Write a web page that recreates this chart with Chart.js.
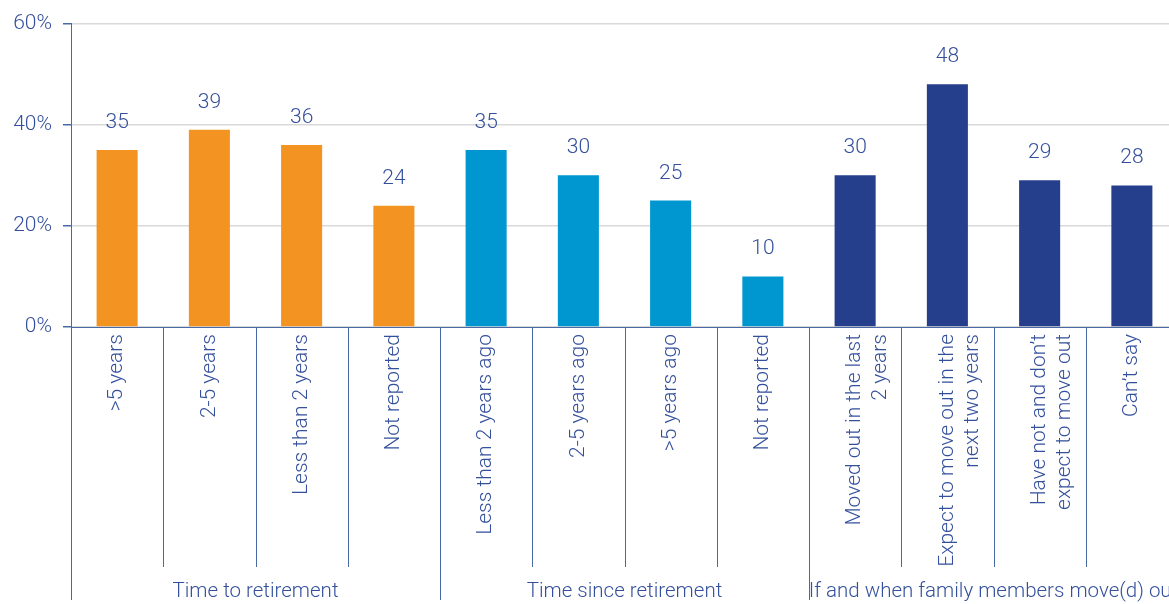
<!DOCTYPE html>
<html lang="en">
<head>
    <meta charset="UTF-8">
    <title>Family members moving out</title>
    <script src="https://cdn.jsdelivr.net/npm/chart.js"></script>
    <style>
        html, body { margin: 0; padding: 0; overflow: hidden; background: #fff; }
        #wrap { position: relative; width: 1180px; height: 604px; }
    </style>
</head>
<body>
    <div id="wrap"><canvas id="myChart"></canvas></div>

    <script>
        // data
        const categories = [
            '>5 years', '2-5 years', 'Less than 2 years', 'Not reported',
            'Less than 2 years ago', '2-5 years ago', '>5 years ago', 'Not reported',
            ['Moved out in the last', '2 years'], ['Expect to move out in the', 'next two years'],
            ['Have not and don\u2019t', 'expect to move out'], 'Can\u2019t say'
        ];
        const values = [35, 39, 36, 24, 35, 30, 25, 10, 30, 48, 29, 28];
        const groups = ['Time to retirement', 'Time since retirement', 'If and when family members move(d) out'];
        const groupSizes = [4, 4, 4];
        const groupColors = ['#f39322', '#0096cf', '#253f8c'];
        const yTicks = [0, 20, 40, 60];

        const textColor = '#34509c';
        const axisColor = '#4a6aa5';
        const font = 'Roboto, "Liberation Sans", sans-serif';

        const barColors = [];
        groupSizes.forEach((n, g) => { for (let i = 0; i < n; i++) barColors.push(groupColors[g]); });

        const extras = {
            id: 'extras',
            afterDraw(chart) {
                const ctx = chart.ctx;
                const x = chart.scales.x, y = chart.scales.y;
                const step = x.getPixelForValue(1) - x.getPixelForValue(0);
                const bottom = chart.chartArea.bottom;
                ctx.save();

                // separators between categories
                const bounds = [0];
                groupSizes.reduce((a, n) => { bounds.push(a + n); return a + n; }, 0);
                ctx.strokeStyle = axisColor;
                ctx.lineWidth = 1;
                for (let i = 0; i <= categories.length; i++) {
                    const px = Math.round(x.getPixelForValue(i) - step / 2) + 0.5;
                    const end = bounds.includes(i) ? 600 : 567;
                    ctx.beginPath();
                    ctx.moveTo(px, bottom);
                    ctx.lineTo(px, end);
                    ctx.stroke();
                }

                // group titles
                ctx.fillStyle = textColor;
                ctx.font = '300 20.5px ' + font;
                ctx.textAlign = 'center';
                ctx.textBaseline = 'middle';
                groups.forEach((g, k) => {
                    const a = x.getPixelForValue(bounds[k]) - step / 2;
                    const b = x.getPixelForValue(bounds[k + 1] - 1) + step / 2;
                    ctx.fillText(g, (a + b) / 2, 592);
                });

                // value labels
                ctx.font = '300 21px ' + font;
                ctx.textBaseline = 'alphabetic';
                values.forEach((v, i) => {
                    ctx.fillText(String(v), x.getPixelForValue(i), y.getPixelForValue(v) - 22);
                });
                ctx.restore();
            }
        };

        new Chart(document.getElementById('myChart'), {
            type: 'bar',
            data: {
                labels: categories,
                datasets: [{
                    data: values,
                    backgroundColor: barColors,
                    barPercentage: 0.445,
                    categoryPercentage: 1
                }]
            },
            options: {
                responsive: true,
                maintainAspectRatio: false,
                animation: false,
                layout: { padding: { top: 13, right: 2, bottom: 30, left: 0 } },
                plugins: { legend: { display: false }, tooltip: { enabled: false } },
                scales: {
                    x: {
                        afterFit(scale) { scale.height = 247; },
                        grid: { display: false, drawTicks: false },
                        border: { color: axisColor, width: 1 },
                        ticks: {
                            color: textColor,
                            font: { family: font, size: 21, weight: '300' },
                            maxRotation: 90, minRotation: 90,
                            autoSkip: false,
                            padding: 7
                        }
                    },
                    y: {
                        min: 0, max: 60,
                        afterBuildTicks(scale) { scale.ticks = yTicks.map(v => ({ value: v })); },
                        afterFit(scale) { scale.width = 71; },
                        grid: { color: '#d9d9d9', tickColor: axisColor, tickLength: 8, lineWidth: 1.5 },
                        border: { color: axisColor, width: 1 },
                        ticks: {
                            color: textColor,
                            font: { family: font, size: 21, weight: '300' },
                            padding: 11,
                            callback: v => v + '%'
                        }
                    }
                }
            },
            plugins: [extras]
        });
    </script>
</body>
</html>
